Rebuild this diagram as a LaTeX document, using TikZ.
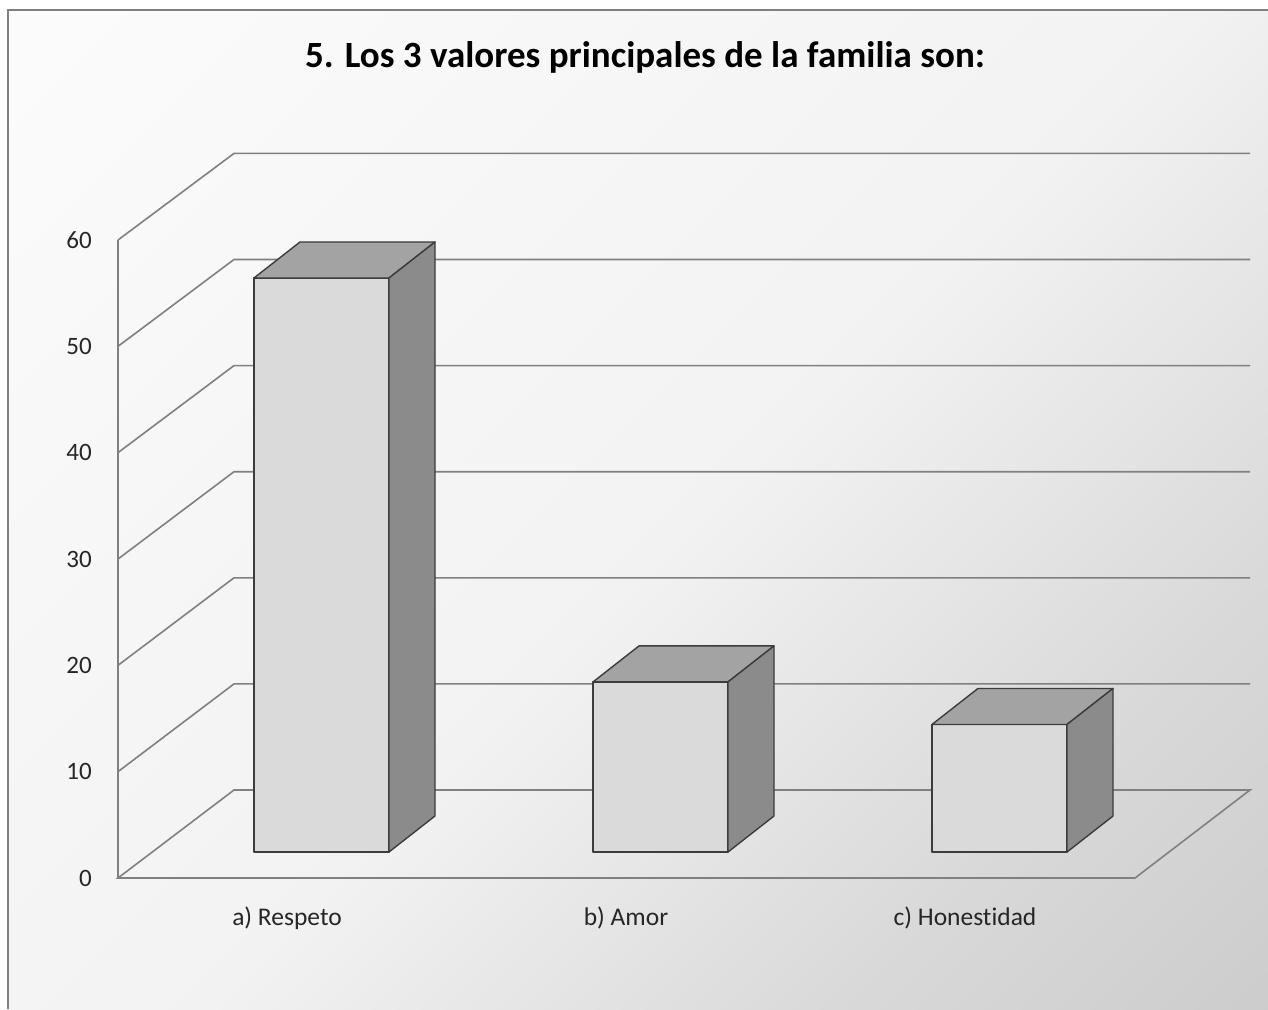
\documentclass[tikz,border=0pt]{standalone}
\usepackage{fontspec}
\setmainfont{Carlito}[Ligatures={NoCommon,NoRare}]
\usetikzlibrary{positioning}

\definecolor{gridgray}{HTML}{808080}
\definecolor{edgegray}{HTML}{3C3C3C}
\definecolor{facefront}{HTML}{DADADA}
\definecolor{facetop}{HTML}{A3A3A3}
\definecolor{faceside}{HTML}{8B8B8B}
\pgfdeclareverticalshading{chartbg}{100bp}{color(0bp)=(gray!50); color(28bp)=(gray!30);
    color(48bp)=(white!95!black); color(100bp)=(white)}

\begin{document}
\begin{tikzpicture}[x=1pt, y=-1pt,
                    grid/.style={draw=gridgray, line width=1.6pt},
                    barface/.style={draw=edgegray, line width=1.4pt, line join=round},
                    ticklbl/.style={inner sep=0pt, font=\fontsize{25}{28}\selectfont, text=black!85},
                    catlbl/.style={inner sep=0pt, font=\fontsize{25.5}{28}\selectfont, text=black!85}]
                      \useasboundingbox (0,0) rectangle (1268,1009);
                      % background of the chart area
                      \shade[shading=chartbg, shading angle=45] (8,10) rectangle (1268,1009);
                      \draw[gridgray, line width=1.2pt] (8,1009) -- (8,10) -- (1268,10);

                      \node[font=\bfseries\fontsize{37}{42}\selectfont] (title) at (645,57)
                          {5. Los 3 valores principales de la familia son:};

                      \foreach \v in {0,10,...,60} {
                              \coordinate (F\v) at (118, {878-\v*10.633});
                              \coordinate (B\v) at (234, {790-\v*10.61});
                              \node[ticklbl, left=26pt of F\v] (L\v) {\v};
                          }

                      \foreach \v in {10,20,...,60} {
                              \draw[grid] (F\v) -- (B\v) -- ++(1016,0);
                          }
                      \draw[grid] (F0) -- (B0) -- (1250,790) -- (1135,878) -- cycle;
                      \draw[grid] (F0) -- (F60);

                      \foreach \x/\v/\n/\t in {254/54/resp/a) Respeto, 593/16/amor/b) Amor,
                              932/12/hone/c) Honestidad} {
                              \pgfmathsetmacro{\top}{852-\v*10.63}
                              \draw[barface, fill=facefront] (\x,852) rectangle (\x+135,\top);
                              \draw[barface, fill=facetop] (\x,\top) -- (\x+46,\top-36)
                                  -- (\x+181,\top-36) -- (\x+135,\top) -- cycle;
                              \draw[barface, fill=faceside] (\x+135,852) -- (\x+181,816)
                                  -- (\x+181,\top-36) -- (\x+135,\top) -- cycle;
                              \node[catlbl] (\n) at (\x+33,918) {\t};
                          }
                  \end{tikzpicture}
\end{document}
